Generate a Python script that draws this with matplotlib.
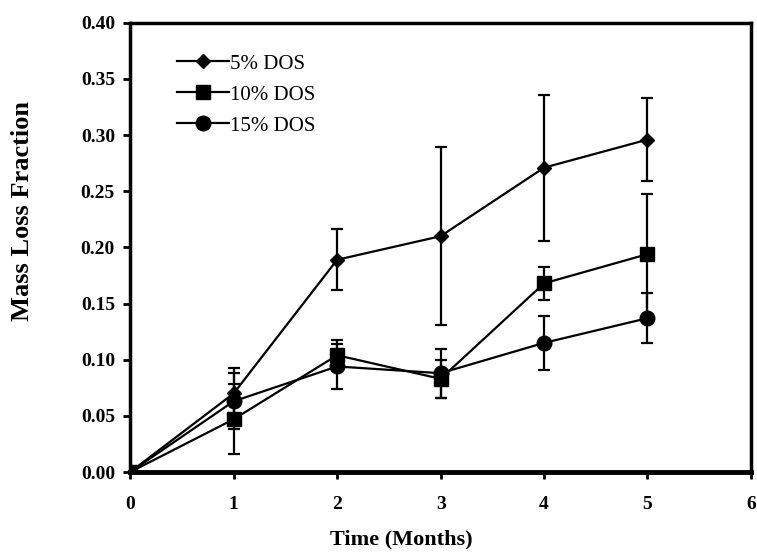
import matplotlib.pyplot as plt
import numpy as np

months = [0, 1, 2, 3, 4, 5]

dos5 = [0.0, 0.070, 0.189, 0.210, 0.271, 0.296]
dos5_err = [0.0, 0.023, 0.027, 0.079, 0.065, 0.037]

dos10 = [0.0, 0.047, 0.104, 0.083, 0.168, 0.194]
dos10_err = [0.0, 0.031, 0.014, 0.017, 0.015, 0.054]

dos15 = [0.0, 0.063, 0.094, 0.088, 0.115, 0.137]
dos15_err = [0.0, 0.025, 0.020, 0.022, 0.024, 0.022]

plt.rcParams['font.family'] = ['Liberation Serif', 'DejaVu Serif']

fig = plt.figure(figsize=(7.57, 5.56), dpi=100)
ax = fig.add_axes([0.172, 0.151, 0.820, 0.808])

# error bars only where there is spread (none at month 0)
def plot_series(y, err, marker, ms, label):
    e = np.array(err)
    ax.plot(months, y, color='black', lw=1.6, marker=marker, ms=ms, label=label, zorder=3)
    m = e > 0
    ax.errorbar(np.array(months)[m], np.array(y)[m], yerr=e[m], fmt='none',
                ecolor='black', elinewidth=1.6, capsize=4.5, capthick=1.6, zorder=2)

plot_series(dos5, dos5_err, 'D', 7.5, '5% DOS')
plot_series(dos10, dos10_err, 's', 9.5, '10% DOS')
plot_series(dos15, dos15_err, 'o', 10.5, '15% DOS')

ax.set_xlim(0, 6)
ax.set_ylim(0, 0.40)
ax.set_xticks(range(0, 7))
ax.set_yticks(np.arange(0, 0.401, 0.05))
ax.set_yticklabels([f'{v:.2f}' for v in np.arange(0, 0.401, 0.05)])

for lab in ax.get_xticklabels() + ax.get_yticklabels():
    lab.set_fontweight('bold')
ax.tick_params(axis='both', direction='out', length=5, width=2, labelsize=14)
ax.tick_params(axis='x', pad=12)
ax.tick_params(axis='y', pad=6)
ax.tick_params(top=False, right=False)

for side in ['left', 'top', 'right']:
    ax.spines[side].set_linewidth(2.5)
ax.spines['bottom'].set_linewidth(3.5)

ax.set_xlabel('Time (Months)', fontsize=16, fontweight='bold')
ax.set_ylabel('Mass Loss Fraction', fontsize=19, fontweight='bold')
ax.xaxis.set_label_coords(0.436, -0.128)
ax.yaxis.set_label_coords(-0.155, 0.58)

ax.legend(loc='upper left', bbox_to_anchor=(0.045, 0.972), frameon=False, fontsize=15,
          handlelength=2.5, handletextpad=0.05, labelspacing=0.55)

fig.savefig('out.png', dpi=100)
